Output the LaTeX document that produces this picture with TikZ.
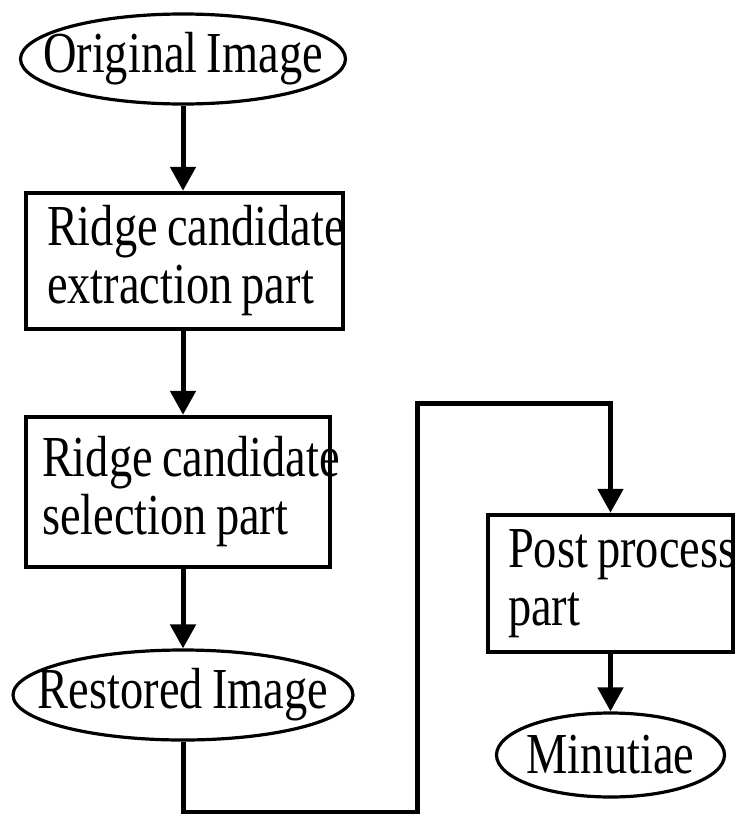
\documentclass[tikz,border=0pt]{standalone}
\usepackage{fontspec}
\usetikzlibrary{shapes.geometric,arrows.meta}
\newfontfamily\flowfont{Liberation Serif}[FakeStretch=0.8,WordSpace=0.8]

\begin{document}
\begin{tikzpicture}[-,>={Triangle[width=12.5pt,length=12pt]},x=0.5pt,y=-0.5pt,line width=2.5pt,
    font=\flowfont\fontsize{29}{29}\selectfont,
    part node/.style={rectangle,draw,line width=2.2pt,align=left,inner ysep=0pt},
    end node/.style={ellipse,draw,line width=1.6pt,inner sep=0pt}]

                \useasboundingbox (0,0) rectangle (736,814);

                \node[end node, minimum width=162.5pt, minimum height=45pt]  (1) at (183,59) {\makebox[0pt]{Original Image}};
                \node[part node, minimum width=158.5pt, minimum height=68pt, inner xsep=10.5pt]  (2) at (184.5,261) {\makebox[137.5pt][l]{Ridge candidate}\\\makebox[137.5pt][l]{extraction part}};
                \node[part node, minimum width=152pt, minimum height=75pt, inner xsep=8pt]  (3) at (178,492) {\makebox[136pt][l]{Ridge candidate}\\\makebox[136pt][l]{selection part}};
                \node[end node, minimum width=170pt, minimum height=45pt]  (4) at (183,695) {\makebox[0pt]{Restored Image}};
                \node[part node, minimum width=122.5pt, minimum height=68.5pt, inner xsep=10pt]  (5) at (610.5,583.5) {\makebox[102.5pt][l]{Post process}\\\makebox[102.5pt][l]{part}};
                \node[end node, minimum width=114pt, minimum height=42pt]  (6) at (610.5,755) {\makebox[0pt]{Minutiae}};

                \coordinate (b1) at (417,812);
                \coordinate (b2) at (417,403);

                \draw[->] (1.south) to (1.south |- 2.north);
                \draw[->] (1.south |- 2.south) to (1.south |- 3.north);
                \draw[->] (4.north |- 3.south) to (4.north);
                \draw[->] (4.south) |- (b1) -- (b2) -| (5.north);
                \draw[->] (5.south) to (6.north);

                ;
            \end{tikzpicture}
\end{document}
